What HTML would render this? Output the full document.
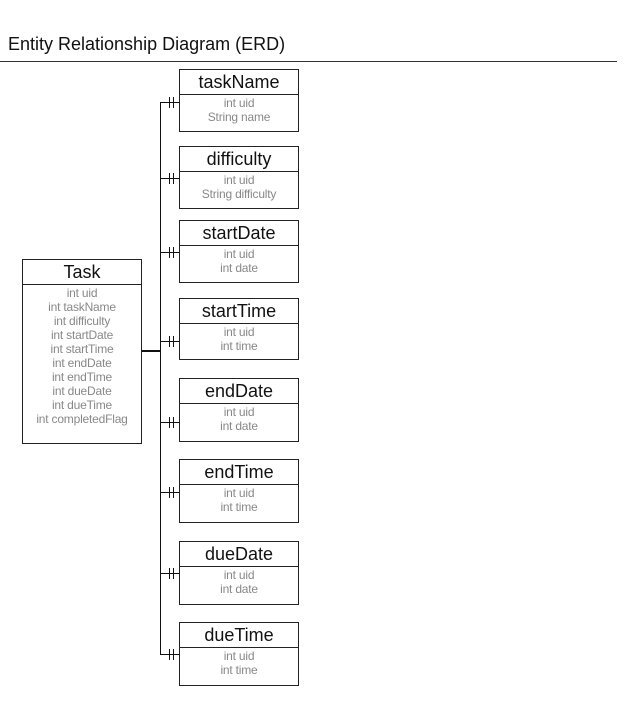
<!DOCTYPE html>
<html><head><style>
body{margin:0;width:640px;height:706px;background:#fff;position:relative;font-family:"Liberation Sans",Arial,sans-serif;overflow:hidden}
.t{position:absolute;left:8px;top:34px;font-size:18px;color:#111}
.b{position:absolute;border:1px solid #222;background:#fff;box-sizing:border-box;text-align:center}
.h{font-size:18px;color:#111;border-bottom:1px solid #222;line-height:24px;height:25px;box-sizing:border-box}
.a{font-size:12px;color:#888;line-height:14px;padding-top:1px;letter-spacing:-0.2px}
</style></head><body>
<div class="t">Entity Relationship Diagram (ERD)</div>
<svg width="640" height="706" style="position:absolute;left:0;top:0">
<line x1="0" y1="61.5" x2="617" y2="61.5" stroke="#333" stroke-width="1"/>
<line x1="160.5" y1="102" x2="160.5" y2="655" stroke="#111" stroke-width="1"/>
<line x1="141" y1="351" x2="161" y2="351" stroke="#111" stroke-width="2"/>
<g stroke="#111" stroke-width="1">
<path d="M160 102.5H179M169.5 97v11M173.5 97v11"/>
<path d="M160 178.5H179M169.5 173v11M173.5 173v11"/>
<path d="M160 252.5H179M169.5 247v11M173.5 247v11"/>
<path d="M160 341.5H179M169.5 336v11M173.5 336v11"/>
<path d="M160 422.5H179M169.5 417v11M173.5 417v11"/>
<path d="M160 492.5H179M169.5 487v11M173.5 487v11"/>
<path d="M160 573.5H179M169.5 568v11M173.5 568v11"/>
<path d="M160 654.5H179M169.5 649v11M173.5 649v11"/>
</g>
</svg>
<div class="b" style="left:22px;top:259px;width:120px;height:185px"><div class="h">Task</div><div class="a">int uid<br>int taskName<br>int difficulty<br>int startDate<br>int startTime<br>int endDate<br>int endTime<br>int dueDate<br>int dueTime<br>int completedFlag</div></div>
<div class="b" style="left:179px;top:69px;width:120px;height:63px"><div class="h">taskName</div><div class="a">int uid<br>String name</div></div>
<div class="b" style="left:179px;top:146px;width:120px;height:63px"><div class="h">difficulty</div><div class="a">int uid<br>String difficulty</div></div>
<div class="b" style="left:179px;top:220px;width:120px;height:63px"><div class="h">startDate</div><div class="a">int uid<br>int date</div></div>
<div class="b" style="left:179px;top:298px;width:120px;height:62px"><div class="h">startTime</div><div class="a">int uid<br>int time</div></div>
<div class="b" style="left:179px;top:378px;width:120px;height:64px"><div class="h">endDate</div><div class="a">int uid<br>int date</div></div>
<div class="b" style="left:179px;top:459px;width:120px;height:64px"><div class="h">endTime</div><div class="a">int uid<br>int time</div></div>
<div class="b" style="left:179px;top:541px;width:120px;height:64px"><div class="h">dueDate</div><div class="a">int uid<br>int date</div></div>
<div class="b" style="left:179px;top:622px;width:120px;height:64px"><div class="h">dueTime</div><div class="a">int uid<br>int time</div></div>
</body></html>
